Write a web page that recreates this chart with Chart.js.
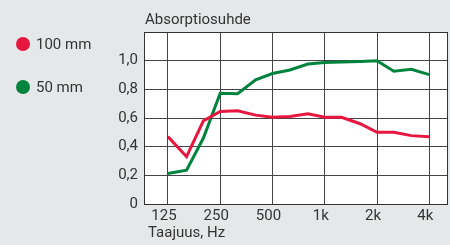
<!DOCTYPE html>
<html>
<head>
<meta charset="utf-8">
<script src="https://cdn.jsdelivr.net/npm/chart.js@4/dist/chart.umd.min.js"></script>
<style>
  html, body { margin: 0; padding: 0; background: #e6e7e8; }
  #wrap { position: relative; width: 450px; height: 245px; font-family: Roboto, sans-serif; color: #333; }
  #legend { position: absolute; left: 0; top: 0; }
  .item { position: absolute; left: 16px; height: 16px; font-size: 15px; line-height: 16px; white-space: nowrap; }
  .dot { display: inline-block; width: 14px; height: 14px; border-radius: 50%; vertical-align: top; margin-top: 1px; margin-right: 6px; }
</style>
</head>
<body>
<div id="wrap">
  <canvas id="chart" width="450" height="245"></canvas>
  <div id="legend"></div>
</div>
<script>
const freqs = [125, 160, 200, 250, 315, 400, 500, 630, 800, 1000, 1250, 1600, 2000, 2500, 3150, 4000];
const values100 = [0.47, 0.33, 0.58, 0.645, 0.65, 0.62, 0.605, 0.61, 0.63, 0.605, 0.605, 0.56, 0.50, 0.50, 0.477, 0.47];
const values50 = [0.213, 0.236, 0.46, 0.773, 0.77, 0.866, 0.91, 0.935, 0.977, 0.988, 0.99, 0.995, 1.0, 0.926, 0.94, 0.903];
const seriesNames = ['100 mm', '50 mm'];
const seriesColors = ['#e8173f', '#00843d'];
const xTicks = [125, 250, 500, 1000, 2000, 4000];
const xTickLabels = ['125', '250', '500', '1k', '2k', '4k'];
const yTitle = 'Absorptiosuhde';
const xTitle = 'Taajuus, Hz';

// legend in html
const legend = document.getElementById('legend');
[36, 79].forEach((top, i) => {
  const d = document.createElement('div');
  d.className = 'item';
  d.style.top = top + 'px';
  d.innerHTML = '<span class="dot" style="background:' + seriesColors[i] + '"></span>' + seriesNames[i];
  legend.appendChild(d);
});

const frame = {
  id: 'frame',
  beforeDraw(chart) {
    const { ctx, chartArea: a } = chart;
    ctx.save();
    ctx.fillStyle = '#ffffff';
    ctx.fillRect(a.left, a.top, a.right - a.left, a.bottom - a.top);
    ctx.restore();
  },
  afterDraw(chart) {
    const { ctx, chartArea: a } = chart;
    ctx.save();
    ctx.strokeStyle = '#333';
    ctx.lineWidth = 1;
    ctx.strokeRect(Math.round(a.left) + 0.5, Math.round(a.top) + 0.5, Math.round(a.right - a.left), Math.round(a.bottom - a.top));
    ctx.fillStyle = '#333';
    ctx.font = '15px Roboto';
    ctx.textBaseline = 'middle';
    ctx.fillText(yTitle, a.left + 1, 20);
    ctx.fillText(xTitle, a.left + 4, 233);
    ctx.restore();
  }
};

const mk = (vals) => freqs.map((f, i) => ({ x: f, y: vals[i] }));

new Chart(document.getElementById('chart'), {
  type: 'line',
  data: {
    datasets: [
      { label: seriesNames[0], data: mk(values100), borderColor: seriesColors[0], borderWidth: 3, pointRadius: 0, tension: 0 },
      { label: seriesNames[1], data: mk(values50), borderColor: seriesColors[1], borderWidth: 3, pointRadius: 0, tension: 0 }
    ]
  },
  options: {
    responsive: false,
    animation: false,
    layout: { padding: { left: 100, top: 32, right: 3, bottom: 0 } },
    plugins: { legend: { display: false }, tooltip: { enabled: false } },
    scales: {
      x: {
        type: 'logarithmic',
        min: 91,
        max: 5060,
        afterBuildTicks: (s) => { s.ticks = xTicks.map(v => ({ value: v })); },
        afterFit: (s) => { s.height = 41; },
        ticks: {
          autoSkip: false,
          maxRotation: 0,
          padding: 3,
          labelOffset: -4,
          color: '#333',
          font: { family: 'Roboto', size: 15 },
          callback: (v) => xTickLabels[xTicks.indexOf(v)] ?? ''
        },
        grid: { color: '#444', lineWidth: 1, drawTicks: false },
        border: { display: false }
      },
      y: {
        min: 0,
        max: 1.2,
        afterFit: (s) => { s.width = 44; },
        ticks: {
          stepSize: 0.2,
          padding: 6,
          color: '#333',
          font: { family: 'Roboto', size: 15 },
          callback: (v) => v > 1.05 ? '' : (v === 0 ? '0' : v.toFixed(1).replace('.', ','))
        },
        grid: { color: '#444', lineWidth: 1, drawTicks: false },
        border: { display: false }
      }
    }
  },
  plugins: [frame]
});
</script>
</body>
</html>
